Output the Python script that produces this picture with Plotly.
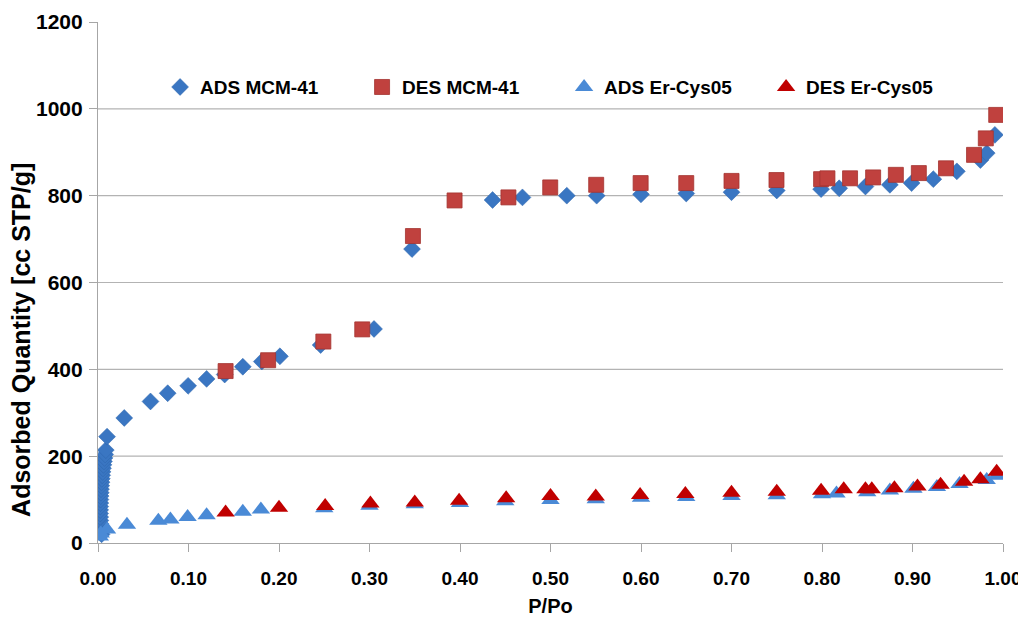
import plotly.graph_objects as go

# ---------------- data ----------------
ads_mcm_x = [0.0040, 0.0035, 0.0031, 0.0028, 0.0026, 0.0025, 0.0024, 0.0024, 0.0025, 0.0026,
             0.0027, 0.0029, 0.0031, 0.0033, 0.0036, 0.0039, 0.0042, 0.0046, 0.0050, 0.0055,
             0.0060, 0.0066, 0.0072, 0.0079, 0.0086,
             0.010, 0.029, 0.058, 0.077, 0.0996, 0.120, 0.140, 0.160, 0.181, 0.201,
             0.246, 0.305, 0.347, 0.436, 0.469, 0.518, 0.551, 0.600, 0.650, 0.700,
             0.750, 0.799, 0.819, 0.848, 0.875, 0.899, 0.923, 0.949, 0.975, 0.982, 0.991]
ads_mcm_y = [20, 28, 36, 44, 52, 60, 68, 76, 84, 92,
             100, 108, 116, 124, 132, 140, 148, 156, 164, 172,
             180, 188, 196, 204, 214,
             245, 288, 326, 345, 362, 378, 388, 406, 418, 430,
             456, 493, 677, 790, 796, 800, 800, 803, 805, 808,
             812, 815, 817, 821, 825, 829, 838, 856, 882, 898, 940]

des_mcm_x = [0.141, 0.188, 0.249, 0.292, 0.348, 0.394, 0.4535, 0.4997, 0.5505, 0.5996,
             0.650, 0.700, 0.7497, 0.799, 0.806, 0.831, 0.8565, 0.8816, 0.907, 0.937,
             0.968, 0.981, 0.9925]
des_mcm_y = [396, 421, 464, 492, 707, 789, 796, 819, 825, 829,
             829, 834, 836, 838, 840, 840, 842, 848, 852, 863,
             894, 932, 986]

ads_er_x = [0.002, 0.003, 0.010, 0.032, 0.0667, 0.080, 0.099, 0.120, 0.160, 0.180,
            0.250, 0.300, 0.350, 0.400, 0.450, 0.500, 0.550, 0.600, 0.650, 0.700,
            0.750, 0.800, 0.816, 0.850, 0.875, 0.901, 0.927, 0.952, 0.982, 0.993]
ads_er_y = [15, 22, 31, 42, 51, 54, 60, 64, 72, 77,
            80, 86, 89, 92, 96, 99, 101, 104, 106, 108,
            110, 112, 114, 117, 121, 125, 129, 136, 145, 155]

des_er_x = [0.141, 0.200, 0.251, 0.301, 0.350, 0.399, 0.451, 0.500, 0.550, 0.599,
            0.649, 0.700, 0.750, 0.799, 0.824, 0.848, 0.855, 0.880, 0.9055, 0.931,
            0.957, 0.975, 0.993]
des_er_y = [70, 81, 85, 91, 93, 97.5, 103, 108, 107, 110.6,
            113, 116, 118, 120.5, 124, 124, 124, 126, 130, 134,
            141, 147, 164]

series_names = ["ADS MCM-41", "DES MCM-41", "ADS Er-Cys05", "DES Er-Cys05"]
x_ticks = [0.0, 0.1, 0.2, 0.3, 0.4, 0.5, 0.6, 0.7, 0.8, 0.9, 1.0]
y_ticks = [0, 200, 400, 600, 800, 1000, 1200]
grid_vals = [200, 400, 600, 800, 1000]

FONT = "Liberation Sans, Arial, sans-serif"

fig = go.Figure()
fig.add_trace(go.Scatter(x=ads_mcm_x, y=ads_mcm_y, mode="markers", name=series_names[0],
                         marker=dict(symbol="diamond", size=13, color="#3A76C2",
                                     line=dict(width=0.5, color="#2F66AD"))))
fig.add_trace(go.Scatter(x=des_mcm_x, y=des_mcm_y, mode="markers", name=series_names[1],
                         marker=dict(symbol="square", size=15, color="#C0413E",
                                     line=dict(width=0.8, color="#A33330"))))
fig.add_trace(go.Scatter(x=ads_er_x, y=ads_er_y, mode="markers", name=series_names[2],
                         marker=dict(symbol="triangle-up", size=16, color="#4A8AD6",
                                     line=dict(width=0))))
fig.add_trace(go.Scatter(x=des_er_x, y=des_er_y, mode="markers", name=series_names[3],
                         marker=dict(symbol="triangle-up", size=16, color="#C00000",
                                     line=dict(width=0))))

for g in grid_vals:
    fig.add_shape(type="line", xref="paper", yref="y", x0=0, x1=1, y0=g, y1=g,
                  line=dict(color="#B3B3B3", width=1.2), layer="below")

# page body has an 8px default margin -> figure sized/margined to compensate
fig.update_layout(
    width=1018, height=612,
    margin=dict(l=90, r=23, t=14, b=77, autoexpand=False),
    paper_bgcolor="white", plot_bgcolor="white",
    font=dict(family=FONT, size=19, color="black"),
    showlegend=True,
    legend=dict(orientation="h", x=0.515, xanchor="center", y=0.875, yanchor="middle",
                bgcolor="rgba(0,0,0,0)", entrywidth=157,
                font=dict(family=FONT, size=19, color="black", weight="bold")),
    xaxis=dict(range=[0, 1.0], tickvals=x_ticks, tickformat=".2f", automargin=False,
               showgrid=False, zeroline=False, showline=True, linecolor="#A6A6A6", linewidth=1.2,
               ticks="outside", ticklen=8, tickcolor="#A6A6A6", tickwidth=1.2,
               ticklabelstandoff=10, ticklabeloverflow="allow",
               tickfont=dict(family=FONT, size=19, color="black", weight="bold"),
               title=dict(text="P/Po", standoff=11,
                          font=dict(family=FONT, size=20, color="black", weight="bold"))),
    yaxis=dict(range=[0, 1200], tickvals=y_ticks, automargin=False,
               showgrid=False, zeroline=False, showline=True, linecolor="#A6A6A6", linewidth=1.2,
               ticks="outside", ticklen=8, tickcolor="#A6A6A6", tickwidth=1.2,
               ticklabelstandoff=2, ticklabeloverflow="allow",
               tickfont=dict(family=FONT, size=21, color="black", weight="bold")),
)

fig.add_annotation(text="Adsorbed Quantity [cc STP/g]", xref="paper", yref="paper",
                   x=-0.085, y=0.39, xanchor="center", yanchor="middle", textangle=-90,
                   showarrow=False,
                   font=dict(family=FONT, size=25, color="black", weight="bold"))

fig.write_html("out.html")
